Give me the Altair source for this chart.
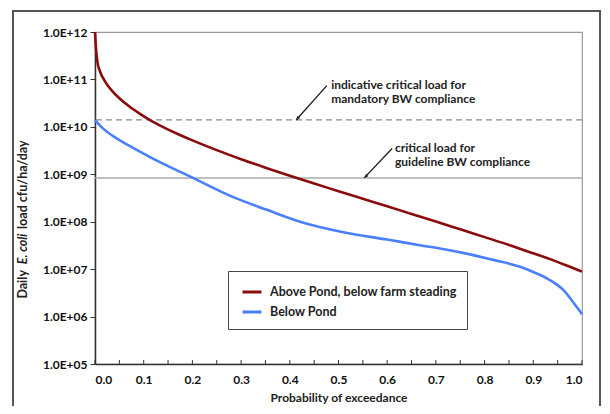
import altair as alt
import pandas as pd

# ---------------- data ----------------
series_names = ["Above Pond, below farm steading", "Below Pond"]
series_colors = ["#8B0B0B", "#4A80FF"]

prob_above = [0, 0.002, 0.0048, 0.0103, 0.0205, 0.035, 0.05, 0.07, 0.09, 0.113,
              0.14, 0.17, 0.2, 0.25, 0.3, 0.35, 0.4, 0.45, 0.5, 0.55,
              0.6, 0.65, 0.7, 0.75, 0.8, 0.85, 0.9, 0.94, 0.97, 1.0]
load_above = [1.0e12, 4.6e11, 2.4e11, 1.48e11, 9.1e10, 5.75e10, 4.0e10, 2.71e10, 1.95e10, 1.39e10,
              9.9e9, 7.06e9, 5.18e9, 3.23e9, 2.08e9, 1.38e9, 9.3e8, 6.37e8, 4.41e8, 3.05e8,
              2.11e8, 1.46e8, 1.01e8, 6.9e7, 4.73e7, 3.24e7, 2.16e7, 1.55e7, 1.18e7, 8.9e6]

prob_below = [0, 0.015, 0.038, 0.07, 0.113, 0.202, 0.284, 0.353, 0.421, 0.51,
              0.6, 0.667, 0.72, 0.77, 0.82, 0.873, 0.9, 0.927, 0.95, 0.962,
              0.975, 0.982, 0.99, 1.0]
load_below = [1.38e10, 9.5e9, 6.3e9, 4.0e9, 2.3e9, 8.3e8, 3.3e8, 1.78e8, 1.0e8, 6.0e7,
              4.2e7, 3.2e7, 2.6e7, 2.05e7, 1.55e7, 1.12e7, 8.7e6, 6.5e6, 4.6e6, 3.6e6,
              2.5e6, 2.0e6, 1.55e6, 1.12e6]

mandatory_load = 1.4e10
guideline_load = 8.4e8

y_ticks = [1e5, 1e6, 1e7, 1e8, 1e9, 1e10, 1e11, 1e12]
x_major = [0.0, 0.1, 0.2, 0.3, 0.4, 0.5, 0.6, 0.7, 0.8, 0.9, 1.0]
x_minor = [round(i * 0.05, 2) for i in range(21)]

note_texts = ["indicative critical load for\nmandatory  BW compliance",
              "critical load for\nguideline BW compliance"]
note_x = [0.485, 0.616]
note_y = [9.73e10, 4.57e9]

arrow_x = [0.476, 0.610]
arrow_y = [7.4e10, 3.5e9]
arrow_x2 = [0.413, 0.553]
arrow_y2 = [mandatory_load, guideline_load]
arrow_angle = [221.5, 225]

# ---------------- layout ----------------
W, H = 487, 332
FONT = "Lato"

df = pd.DataFrame({
    "p": prob_above + prob_below,
    "load": load_above + load_below,
    "series": [series_names[0]] * len(prob_above) + [series_names[1]] * len(prob_below),
})

xscale = alt.Scale(domain=[0, 1], nice=False, zero=False)
yscale = alt.Scale(type="log", domain=[1e5, 1e12], nice=False)

frame = alt.Chart(pd.DataFrame({"a": [0]})).mark_rect(
    fillOpacity=0, stroke="#555555", strokeWidth=2
).encode(x=alt.value(-82), x2=alt.value(505), y=alt.value(-21), y2=alt.value(420))

lines = alt.Chart(df).mark_line(strokeWidth=2.6, interpolate="monotone").encode(
    x=alt.X("p:Q", scale=xscale,
            axis=alt.Axis(values=x_major, format=".1f", ticks=False, grid=False,
                          labelPadding=10, title="Probability of exceedance",
                          titlePadding=7)),
    y=alt.Y("load:Q", scale=yscale,
            axis=alt.Axis(values=y_ticks, grid=False, tickSize=5, labelPadding=3, title=None,
                          labelExpr="'1.0E+' + (round(log(datum.value)/LN10) < 10 ? '0' : '') + round(log(datum.value)/LN10)")),
    color=alt.Color("series:N", scale=alt.Scale(domain=series_names, range=series_colors),
                    legend=alt.Legend(title=None, orient="none", legendX=133, legendY=239,
                                      padding=10, strokeColor="#444444", fillColor="white",
                                      symbolType="stroke", symbolSize=360, symbolStrokeWidth=3,
                                      symbolOffset=3, labelOffset=7, labelLimit=400,
                                      labelFont=FONT, labelFontSize=12.5, labelFontWeight="bold",
                                      labelColor="#222222", rowPadding=2)),
    order="p:Q",
)

minor_ticks = alt.Chart(pd.DataFrame({"t": x_minor})).mark_rule(color="#333333", strokeWidth=1).encode(
    x=alt.X("t:Q", scale=xscale), y=alt.value(H - 4), y2=alt.value(H)
)

ref_df = pd.DataFrame({"v": [mandatory_load, guideline_load], "kind": ["mandatory", "guideline"]})
dashed = alt.Chart(ref_df[ref_df.kind == "mandatory"]).mark_rule(
    color="#888888", strokeWidth=1.2, strokeDash=[6, 4]
).encode(y=alt.Y("v:Q", scale=yscale))
solid = alt.Chart(ref_df[ref_df.kind == "guideline"]).mark_rule(
    color="#aaaaaa", strokeWidth=1.5
).encode(y=alt.Y("v:Q", scale=yscale))

notes = alt.Chart(pd.DataFrame({"x": note_x, "y": note_y, "t": note_texts})).mark_text(
    align="left", baseline="top", font=FONT, fontSize=12, fontWeight="bold", color="#222222",
    lineBreak="\n", lineHeight=14
).encode(x=alt.X("x:Q", scale=xscale), y=alt.Y("y:Q", scale=yscale), text="t:N")

arr_df = pd.DataFrame({"x": arrow_x, "y": arrow_y, "x2": arrow_x2, "y2": arrow_y2, "a": arrow_angle})
arrow_lines = alt.Chart(arr_df).mark_rule(color="#222222", strokeWidth=1.4).encode(
    x=alt.X("x:Q", scale=xscale), y=alt.Y("y:Q", scale=yscale), x2="x2:Q", y2="y2:Q"
)
arrow_heads = alt.Chart(arr_df).mark_point(
    shape="M0,0L-0.55,1.3L0.55,1.3Z", filled=True, color="#222222", opacity=1, size=40
).encode(x=alt.X("x2:Q", scale=xscale), y=alt.Y("y2:Q", scale=yscale), angle=alt.Angle("a:Q", scale=None))

tdf = pd.DataFrame({"a": [0]})
ytitle_a = alt.Chart(tdf).mark_text(angle=270, align="right", baseline="middle", font=FONT,
                                    fontSize=12.5, fontWeight="bold", color="#222222").encode(
    x=alt.value(-72), y=alt.value(238), text=alt.value("Daily"))
ytitle_b = alt.Chart(tdf).mark_text(angle=270, align="center", baseline="middle", font=FONT,
                                    fontSize=12.5, fontWeight="bold", fontStyle="italic", color="#222222").encode(
    x=alt.value(-72), y=alt.value(217), text=alt.value("E. coli"))
ytitle_c = alt.Chart(tdf).mark_text(angle=270, align="left", baseline="middle", font=FONT,
                                    fontSize=12.5, fontWeight="bold", color="#222222").encode(
    x=alt.value(-72), y=alt.value(197), text=alt.value("load cfu/ha/day"))

chart = alt.layer(
    frame, dashed, solid, lines, minor_ticks, arrow_lines, arrow_heads, notes,
    ytitle_a, ytitle_b, ytitle_c
).properties(
    width=W, height=H,
    padding={"left": 87, "top": 24, "right": 20, "bottom": 42},
    autosize=alt.AutoSizeParams(type="none"),
).configure_view(
    stroke="#999999", strokeWidth=1.2
).configure_axis(
    labelFont=FONT, labelFontSize=12, labelFontWeight="bold", labelColor="#111111",
    titleFont=FONT, titleFontSize=12, titleFontWeight="bold", titleColor="#222222",
    domainColor="#333333", domainWidth=1.5, tickColor="#333333",
)

chart.save("out.html", embed_options={"renderer": "svg", "actions": False})
